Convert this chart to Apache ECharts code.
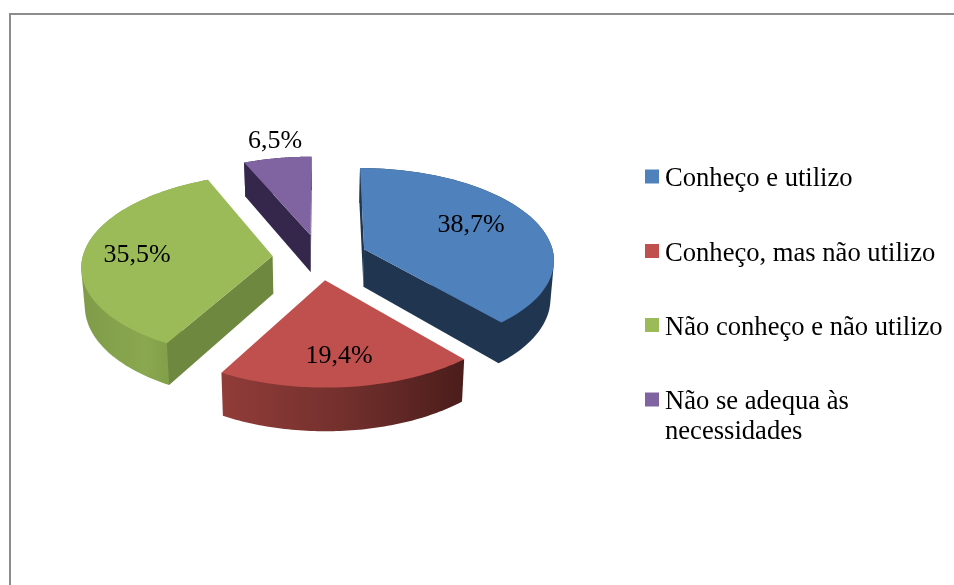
<!DOCTYPE html>
<html>
<head>
<meta charset="utf-8">
<title>Pie</title>
<style>
html, body { margin: 0; padding: 0; background: #fff; }
#chart { width: 954px; height: 585px; }
</style>
<script src="https://cdn.jsdelivr.net/npm/echarts@6/dist/echarts.min.js"></script>
</head>
<body>
<div id="chart"></div>
<script>
const categories = ["Conheço e utilizo", "Conheço, mas não utilizo", "Não conheço e não utilizo", "Não se adequa às necessidades"]
const values = [38.7, 19.4, 35.5, 6.5]

const topColors = ["#4f81bd", "#c0504d", "#9bbb59", "#8064a2"]
const wallColors = ["#1f3550", "#4f1e1c", "#6f883f", "#35274b"]
const rimStops = [
    ["#1f3550", "#1f3550", "#1f3550"],
    ["#913c39", "#73302d", "#4b1d1b"],
    ["#7f9b49", "#8aa84f", "#73903f"],
    ["#35274b", "#35274b", "#35274b"],
]
const labelAnchors = [[471, 225], [339, 356], [137, 255], [275, 141]]
const legendCenters = [176, 250.5, 324.5, 399]

const FONT = '"Liberation Serif", "Times New Roman", serif'

// projeção do plano do disco para a tela, com perspectiva
const view = { cx: 320, cy: 257, a: 190, b: 91, p: 0.104, explode: 0.25, depth: 38, bottomScale: 0.985 }

function project(u, w, lower) {
    const d = 1 - view.p * w
    if (!lower) {
        return [view.cx + (view.a * u) / d, view.cy + (view.b * w) / d]
    }
    return [view.cx + ((view.a * u) / d) * view.bottomScale, view.cy + (view.b * w + view.depth) / d]
}

// contorno convexo da lateral, para o perfil sair reto entre as duas elipses
function convexHull(points) {
    const sorted = points.slice().sort((a, b) => a[0] - b[0] || a[1] - b[1])
    const cross = (o, a, b) => (a[0] - o[0]) * (b[1] - o[1]) - (a[1] - o[1]) * (b[0] - o[0])
    const walk = list => {
        const chain = []
        list.forEach(p => {
            while (chain.length >= 2 && cross(chain[chain.length - 2], chain[chain.length - 1], p) <= 0) {
                chain.pop()
            }
            chain.push(p)
        })
        chain.pop()
        return chain
    }
    return walk(sorted).concat(walk(sorted.slice().reverse()))
}

// a parede só aparece quando a fatia fica acima da aresta na tela
function wallFacesViewer(apexPt, rimPt, midPt) {
    const dx = rimPt[0] - apexPt[0] || 1e-6
    const lineY = apexPt[1] + ((rimPt[1] - apexPt[1]) / dx) * (midPt[0] - apexPt[0])
    return midPt[1] < lineY
}

function renderSlice(index) {
    return function () {
        const total = values.reduce((sum, v) => sum + v, 0)
        const before = values.slice(0, index).reduce((sum, v) => sum + v, 0)
        const start = (before / total) * Math.PI * 2
        const end = ((before + values[index]) / total) * Math.PI * 2
        const mid = (start + end) / 2
        const offU = view.explode * Math.sin(mid)
        const offW = -view.explode * Math.cos(mid)

        const rimPlan = []
        const steps = 70
        for (let i = 0; i <= steps; i++) {
            const t = start + ((end - start) * i) / steps
            rimPlan.push([offU + Math.sin(t), offW - Math.cos(t)])
        }
        const apex = [offU, offW]
        const first = rimPlan[0]
        const last = rimPlan[steps]
        const face = pts => pts.map(p => project(p[0], p[1], false))
        const under = pts => pts.map(p => project(p[0], p[1], true))
        const apexPt = face([apex])[0]
        const midPt = face([rimPlan[steps / 2]])[0]

        const wall = pts => ({
            type: "polygon",
            silent: true,
            shape: { points: face(pts).concat(under(pts).reverse()) },
            style: { fill: wallColors[index] },
        })
        const stops = rimStops[index]

        const children = [
            {
                type: "polygon",
                silent: true,
                shape: { points: convexHull(face(rimPlan).concat(under(rimPlan))) },
                style: {
                    fill: new echarts.graphic.LinearGradient(0, 0, 1, 0, [
                        { offset: 0, color: stops[0] },
                        { offset: 0.5, color: stops[1] },
                        { offset: 1, color: stops[2] },
                    ]),
                },
            },
        ]
        ;[first, last].forEach(edge => {
            if (wallFacesViewer(apexPt, face([edge])[0], midPt)) {
                children.push(wall([apex, edge]))
            }
        })
        children.push(
            {
                type: "polygon",
                silent: true,
                shape: { points: face([apex].concat(rimPlan)) },
                style: { fill: topColors[index] },
            },
            {
                type: "text",
                silent: true,
                z2: 10,
                style: {
                    text: values[index].toFixed(1).replace(".", ",") + "%",
                    x: labelAnchors[index][0],
                    y: labelAnchors[index][1],
                    align: "center",
                    verticalAlign: "middle",
                    font: "26px " + FONT,
                    fill: "#000",
                },
            }
        )

        return { type: "group", children: children }
    }
}

function legendText(name) {
    // a última entrada quebra em duas linhas, com o ícone na primeira
    if (name === categories[3]) {
        return "{a| }\n{a|Não se adequa às}\n{a|necessidades}"
    }
    return "{a|" + name + "}"
}

const chart = echarts.init(document.getElementById("chart"), null, { renderer: "canvas" })

chart.setOption({
    animation: false,
    backgroundColor: "#fff",
    graphic: [
        {
            type: "polyline",
            silent: true,
            shape: { points: [[10, 585], [10, 14], [954, 14]] },
            style: { stroke: "#8c8c8c", lineWidth: 2, fill: null },
        },
    ],
    legend: categories.map((name, i) => ({
        data: [name],
        left: 645,
        top: legendCenters[i] - (i === 3 ? 46 : 16),
        orient: "vertical",
        icon: "rect",
        itemWidth: 14,
        itemHeight: 14,
        selectedMode: false,
        padding: 0,
        formatter: legendText,
        textStyle: {
            rich: {
                a: { fontFamily: FONT, fontSize: 26.6, lineHeight: 30, color: "#000", padding: [6, 0, 0, 1] },
            },
        },
    })),
    series: categories.map((name, i) => ({
        type: "custom",
        name: name,
        coordinateSystem: "none",
        silent: true,
        itemStyle: { color: topColors[i] },
        data: [values[i]],
        renderItem: renderSlice(i),
    })),
})
</script>
</body>
</html>
